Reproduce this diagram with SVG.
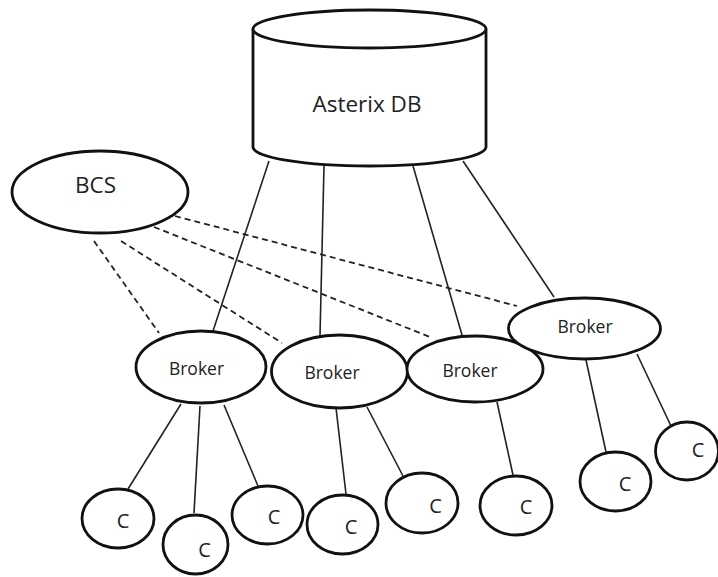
<svg xmlns="http://www.w3.org/2000/svg" width="718" height="577" viewBox="0 0 718 577">
<style>
.node{fill:#fff;stroke:#111;stroke-width:2.8}
.solid{stroke:#222;stroke-width:1.6;fill:none}
.dash{stroke:#222;stroke-width:1.8;stroke-dasharray:6 4;fill:none}
text{font-family:"Open Sans","DejaVu Sans",sans-serif;fill:#222;text-anchor:middle}
.big{font-size:22.5px}
.br{font-size:17.5px}
.c{font-size:20px}
</style>
<rect width="718" height="577" fill="#fff"/>
<g id="connectors">
<line class="solid" x1="269" y1="161" x2="213" y2="331"/>
<line class="solid" x1="324" y1="166" x2="320" y2="336"/>
<line class="solid" x1="413" y1="166" x2="462" y2="335"/>
<line class="solid" x1="463" y1="161" x2="554" y2="297"/>
<line class="dash" x1="94" y1="241" x2="159" y2="333"/>
<line class="dash" x1="121" y1="241" x2="282" y2="343"/>
<line class="dash" x1="154" y1="227" x2="430" y2="337"/>
<line class="dash" x1="175" y1="216" x2="517" y2="306"/>
<line class="solid" x1="181" y1="404" x2="128" y2="489"/>
<line class="solid" x1="200" y1="406" x2="194" y2="513"/>
<line class="solid" x1="224" y1="405" x2="258" y2="486"/>
<line class="solid" x1="336" y1="408" x2="346" y2="494"/>
<line class="solid" x1="367" y1="407" x2="403" y2="476"/>
<line class="solid" x1="497" y1="402" x2="513" y2="475"/>
<line class="solid" x1="586" y1="360" x2="606" y2="452"/>
<line class="solid" x1="637" y1="354" x2="671" y2="426"/>
</g>
<g id="asterixdb">
<path class="node" d="M253,29 L253,147 A116.5,19 0 0 0 486,147 L486,29"/>
<ellipse class="node" cx="369.5" cy="29" rx="116.5" ry="19"/>
<text class="big" x="367" y="112">Asterix DB</text>
</g>
<g id="bcs">
<ellipse class="node" cx="100" cy="192" rx="88" ry="41"/>
<text class="big" x="95.5" y="193">BCS</text>
</g>
<g id="broker1">
<ellipse class="node" cx="201" cy="367" rx="65" ry="36"/>
<text class="br" x="196.5" y="375">Broker</text>
</g>
<g id="broker2">
<ellipse class="node" cx="339.5" cy="371.5" rx="68" ry="36.5"/>
<text class="br" x="332" y="379">Broker</text>
</g>
<g id="broker3">
<ellipse class="node" cx="475" cy="369" rx="68" ry="33"/>
<text class="br" x="470" y="377">Broker</text>
</g>
<g id="broker4">
<ellipse class="node" cx="584.5" cy="328.5" rx="76" ry="30.5"/>
<text class="br" x="585" y="333">Broker</text>
</g>
<g id="c1"><ellipse class="node" cx="118" cy="518.5" rx="36" ry="29.5"/><text class="c" x="123" y="528">C</text></g>
<g id="c2"><ellipse class="node" cx="195.5" cy="544.5" rx="32.5" ry="29.5"/><text class="c" x="204.5" y="557">C</text></g>
<g id="c3"><ellipse class="node" cx="267.5" cy="515" rx="35.5" ry="29"/><text class="c" x="274" y="524">C</text></g>
<g id="c4"><ellipse class="node" cx="342.5" cy="524.5" rx="35.5" ry="29.5"/><text class="c" x="351" y="534">C</text></g>
<g id="c5"><ellipse class="node" cx="422" cy="503" rx="36" ry="30"/><text class="c" x="435.5" y="513">C</text></g>
<g id="c6"><ellipse class="node" cx="516" cy="505.5" rx="36" ry="29.5"/><text class="c" x="526" y="514">C</text></g>
<g id="c7"><ellipse class="node" cx="615.5" cy="481.5" rx="35.5" ry="29.5"/><text class="c" x="625" y="491">C</text></g>
<g id="c8"><ellipse class="node" cx="687" cy="451" rx="31.5" ry="29"/><text class="c" x="698" y="457">C</text></g>
</svg>
